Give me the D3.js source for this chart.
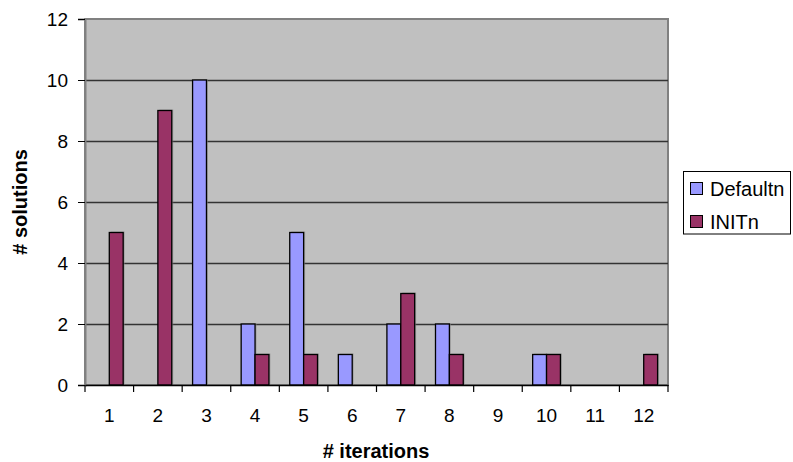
<!DOCTYPE html>
<html>
<head>
<meta charset="utf-8">
<script src="https://cdn.jsdelivr.net/npm/d3@7"></script>
<style>
  body { margin: 0; background: #fff; }
  text { font-family: "Liberation Sans", Arial, sans-serif; fill: #000; }
</style>
</head>
<body>
<svg id="main" width="793" height="462"></svg>
<script>
// data
var categories = ["1", "2", "3", "4", "5", "6", "7", "8", "9", "10", "11", "12"];
var seriesNames = ["Defaultn", "INITn"];
var defaultn = [0, 0, 10, 2, 5, 1, 2, 2, 0, 1, 0, 0];
var initn    = [5, 9, 0, 1, 1, 0, 3, 1, 0, 1, 0, 1];
var yTicks = [0, 2, 4, 6, 8, 10, 12];
var colors = ["#9999FF", "#993366"];

var svg = d3.select("svg#main");

var plot = {left: 85, top: 19, right: 668, bottom: 385};

var x = d3.scaleBand()
  .domain(categories)
  .range([plot.left, plot.right]);

var y = d3.scaleLinear()
  .domain([0, 12])
  .range([plot.bottom, plot.top]);

// plot area background
svg.append("rect")
  .attr("x", plot.left).attr("y", plot.top)
  .attr("width", plot.right - plot.left)
  .attr("height", plot.bottom - plot.top)
  .attr("fill", "#C0C0C0")
  .attr("stroke", "#808080")
  .attr("stroke-width", 2);

// gridlines
svg.selectAll("line.grid")
  .data(yTicks.filter(function(d) { return d > 0 && d < 12; }))
  .enter().append("line")
  .attr("class", "grid")
  .attr("x1", plot.left).attr("x2", plot.right)
  .attr("y1", function(d) { return Math.round(y(d)) + 0.5; })
  .attr("y2", function(d) { return Math.round(y(d)) + 0.5; })
  .attr("stroke", "#333")
  .attr("stroke-width", 1.5);

// bars: Excel style, gap width 150%
var barW = x.bandwidth() / 3.5;
var series = [defaultn, initn];

series.forEach(function(vals, si) {
  var g = svg.append("g");
  var rows = categories.map(function(c, i) { return {cat: c, v: vals[i]}; })
    .filter(function(d) { return d.v > 0; });

  // faint shadow
  g.selectAll("rect.shadow")
    .data(rows)
    .enter().append("rect")
    .attr("x", function(d) { return x(d.cat) + x.bandwidth() / 2 - barW + si * barW + 1.5; })
    .attr("y", function(d) { return y(d.v) - 1; })
    .attr("width", barW)
    .attr("height", function(d) { return y(0) - y(d.v) + 1; })
    .attr("fill", "#888")
    .attr("opacity", 0.6);

  g.selectAll("rect.bar")
    .data(rows)
    .enter().append("rect")
    .attr("class", "bar")
    .attr("x", function(d) { return x(d.cat) + x.bandwidth() / 2 - barW + si * barW; })
    .attr("y", function(d) { return y(d.v); })
    .attr("width", barW)
    .attr("height", function(d) { return y(0) - y(d.v); })
    .attr("fill", colors[si])
    .attr("stroke", "#000")
    .attr("stroke-width", 1.3);
});

// y axis
var yAxis = d3.axisLeft(y).tickValues(yTicks).tickSize(7).tickPadding(10);
var ya = svg.append("g")
  .attr("transform", "translate(" + plot.left + ",0)")
  .call(yAxis);
ya.select(".domain").attr("stroke", "#808080").attr("stroke-width", 2);
ya.selectAll(".tick line").attr("stroke", "#000");
ya.selectAll(".tick text")
  .style("font-size", "19px")
  .attr("dy", "0.35em");

// x axis
var xAxis = d3.axisBottom(x).tickSize(0).tickPadding(24);
var xa = svg.append("g")
  .attr("transform", "translate(0," + plot.bottom + ")")
  .call(xAxis);
xa.select(".domain").attr("stroke", "#000").attr("stroke-width", 1.5);
xa.selectAll(".tick text").style("font-size", "19px");

// tick marks on category boundaries
svg.selectAll("line.xtick")
  .data(d3.range(categories.length + 1))
  .enter().append("line")
  .attr("x1", function(i) { return plot.left + i * x.step(); })
  .attr("x2", function(i) { return plot.left + i * x.step(); })
  .attr("y1", plot.bottom)
  .attr("y2", plot.bottom + 7)
  .attr("stroke", "#000")
  .attr("stroke-width", 1.2);

// axis titles
svg.append("text")
  .attr("transform", "translate(27,202) rotate(-90)")
  .attr("text-anchor", "middle")
  .style("font-size", "20px")
  .style("font-weight", "bold")
  .text("# solutions");

svg.append("text")
  .attr("x", 376).attr("y", 458)
  .attr("text-anchor", "middle")
  .style("font-size", "20px")
  .style("font-weight", "bold")
  .text("# iterations");

// legend
var legend = svg.append("g");
legend.append("rect")
  .attr("x", 683.5).attr("y", 171.5)
  .attr("width", 107).attr("height", 62.5)
  .attr("fill", "#fff")
  .attr("stroke", "#000");

seriesNames.forEach(function(name, i) {
  var ly = 182.5 + i * 33;
  legend.append("rect")
    .attr("x", 690.5).attr("y", ly)
    .attr("width", 12).attr("height", 12)
    .attr("fill", colors[i])
    .attr("stroke", "#000");
  legend.append("text")
    .attr("x", 710).attr("y", ly + 13)
    .style("font-size", "20px")
    .text(name);
});
</script>
</body>
</html>
